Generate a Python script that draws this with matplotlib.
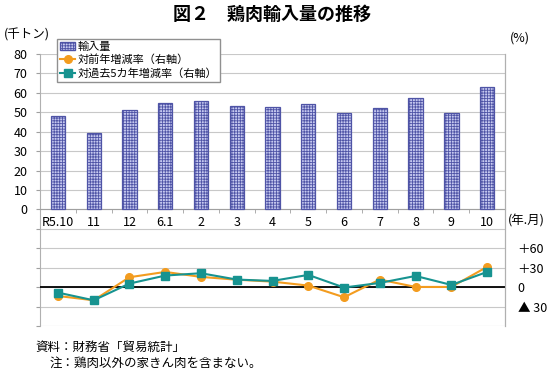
import matplotlib
matplotlib.use("Agg")
import matplotlib.pyplot as plt
from matplotlib.ticker import FixedLocator, FuncFormatter
from matplotlib.patches import Patch

plt.rcParams['font.family'] = ['Noto Sans CJK JP', 'DejaVu Sans']
plt.rcParams['hatch.linewidth'] = 0.6

categories = ["R5.10", "11", "12", "6.1", "2", "3", "4", "5", "6", "7", "8", "9", "10"]
imports = [48.2, 39.5, 51.4, 55.0, 56.0, 53.2, 52.7, 54.1, 49.8, 52.4, 57.2, 49.7, 62.9]
yoy = [-13.6, -20.3, 15.3, 23.5, 15.8, 11.5, 8.5, 2.4, -15.6, 11.7, 0.3, 0.3, 31.3]
vs5y = [-8.4, -20.3, 5.5, 17.9, 21.5, 11.7, 9.6, 18.9, -0.6, 6.5, 17.3, 3.4, 23.5]
right_ticks = [-30, 0, 30, 60]
right_labels = ["▲ 30", "0", "＋30", "＋60"]

BAR_FACE = '#c6c9f0'
BAR_HATCH = '#4f54a6'

fig = plt.figure(figsize=(5.5, 3.74), dpi=100)
ax = fig.add_axes([40/550, 1-326/374, 465/550, 272/374])
ax2 = ax.twinx()
ax.set_zorder(1)
ax2.set_zorder(2)

n = len(categories)
x = list(range(n))
ax.bar(x, imports, width=0.4, color=BAR_FACE, edgecolor=BAR_HATCH,
       hatch='++++++', linewidth=0.9, zorder=3)

ax.set_xlim(-0.5, n - 0.5)
ax.set_ylim(-60, 80)
ax.yaxis.set_major_locator(FixedLocator(list(range(-60, 81, 10))))
ax.yaxis.set_major_formatter(FuncFormatter(lambda v, p: f"{int(v)}" if v >= 0 else ""))
ax.tick_params(axis='y', length=3, color='#a0a0a0', labelsize=9, pad=6)
ax.grid(axis='y', color='#c8c8c8', linewidth=0.8, zorder=0)
ax.set_axisbelow(True)

ax.spines['bottom'].set_position(('data', 0))
ax.spines['bottom'].set_color('#a0a0a0')
ax.spines['top'].set_visible(False)
for s in ['left', 'right']:
    ax.spines[s].set_color('#b0b0b0')
ax.set_xticks(x)
ax.set_xticklabels(categories)
ax.set_xticks([i + 0.5 for i in range(n - 1)], minor=True)
ax.tick_params(axis='x', which='major', length=0, labelsize=9, pad=5)
ax.tick_params(axis='x', which='minor', length=3, color='#a0a0a0', direction='out')

ax2.set_ylim(-60, 360)
ax2.axhline(0, color='black', linewidth=1.3, zorder=1)
l1, = ax2.plot(x, yoy, color='#f39c1f', marker='o', markersize=5.5, linewidth=1.5,
               label='対前年増減率（右軸）', zorder=3)
l2, = ax2.plot(x, vs5y, color='#179390', marker='s', markersize=6, linewidth=1.5,
               label='対過去5カ年増減率（右軸）', zorder=4)
ax2.set_yticks(right_ticks)
ax2.set_yticklabels(right_labels)
ax2.tick_params(axis='y', length=0, labelsize=9, pad=9)
for s in ['top', 'bottom', 'left']:
    ax2.spines[s].set_visible(False)
ax2.spines['right'].set_color('#b0b0b0')

h0 = Patch(facecolor=BAR_FACE, edgecolor=BAR_HATCH, hatch='++++++', label='輸入量')
leg = fig.legend(handles=[h0, l1, l2], loc='upper left',
                 bbox_to_anchor=(57/550, 1-39/374), fontsize=8,
                 fancybox=False, edgecolor='#909090', framealpha=1,
                 borderpad=0.25, labelspacing=0.25, handlelength=1.4,
                 handletextpad=0.2, borderaxespad=0)
leg.set_zorder(10)

fig.text(272/550, 1-14/374, "図２　鶏肉輸入量の推移", ha='center', va='center',
         fontsize=13, fontweight='bold')
fig.text(4/550, 1-35/374, "(千トン)", ha='left', va='center', fontsize=9)
fig.text(510/550, 1-38/374, "(%)", ha='left', va='center', fontsize=9)
fig.text(508/550, 1-221/374, "(年.月)", ha='left', va='center', fontsize=9)
fig.text(35/550, 1-347/374, "資料：財務省「貿易統計」", ha='left', va='center', fontsize=9)
fig.text(50/550, 1-363/374, "注：鶏肉以外の家きん肉を含まない。", ha='left', va='center', fontsize=9)

fig.savefig("out.png", dpi=100)
